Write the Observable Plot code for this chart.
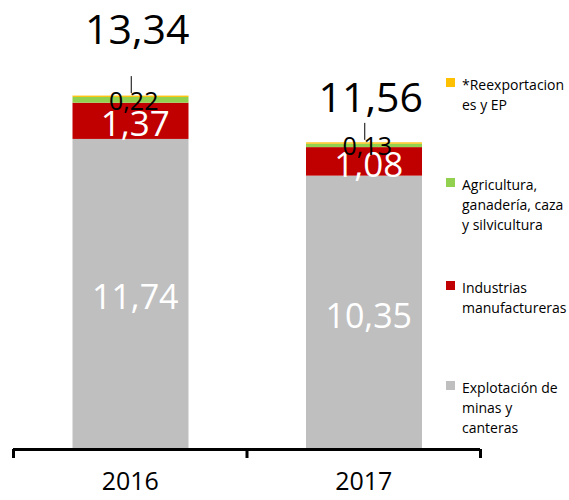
<!DOCTYPE html>
<html>
<head>
<meta charset="utf-8">
<script src="https://cdn.jsdelivr.net/npm/d3@7"></script>
<script src="https://cdn.jsdelivr.net/npm/@observablehq/plot@0.6"></script>
<style>
  body { margin: 0; background: #fff; font-family: "Open Sans", sans-serif; }
  #wrap { position: relative; width: 569px; height: 500px; }
  #legend { position: absolute; left: 446px; top: 0; }
  .item { position: absolute; left: 0; width: 123px; font-size: 14px; line-height: 20px; color: #000; }
  .sw { position: absolute; left: 0; top: 3.4px; width: 9px; height: 9px; }
  .lab { position: absolute; left: 16px; top: 0; white-space: nowrap; }
</style>
</head>
<body>
<div id="wrap"><div id="legend"></div></div>
<script>
const years = ["2016", "2017"];
const seriesNames = [
  "Explotación de minas y canteras",
  "Industrias manufactureras",
  "Agricultura, ganadería, caza y silvicultura",
  "*Reexportaciones y EP"
];
const legendLines = [
  ["Explotación de", "minas y", "canteras"],
  ["Industrias", "manufactureras"],
  ["Agricultura,", "ganadería, caza", "y silvicultura"],
  ["*Reexportacion", "es y EP"]
];
const colors = ["#BFBFBF", "#C00000", "#92D050", "#FFC000"];
const minas = [11.74, 10.35];
const industrias = [1.37, 1.08];
const agricultura = [0.22, 0.13];
const reexport = [0.05, 0.05];
const totals = [13.34, 11.56];

const seriesValues = [minas, industrias, agricultura, reexport];
const rows = [];
const tops = [];
years.forEach((yr, i) => {
  let base = 0;
  seriesValues.forEach((vals, k) => {
    rows.push({i, year: yr, series: seriesNames[k], k, y1: base, y2: base + vals[i], value: vals[i]});
    base += vals[i];
  });
  tops.push({i, year: yr, top: base, total: totals[i]});
});
const fmt = d => d.toFixed(2).replace(".", ",");
const seg = k => rows.filter(r => r.k === k);
const cx = d => d.i + 0.5;
const mid = d => (d.y1 + d.y2) / 2;

const chart = Plot.plot({
  width: 569,
  height: 500,
  marginTop: 0,
  marginLeft: 13,
  marginRight: 89,
  marginBottom: 51,
  style: {fontFamily: "Open Sans, sans-serif", background: "white"},
  x: {domain: [0, 2], axis: null},
  y: {domain: [0, 17], axis: null},
  color: {domain: seriesNames, range: colors},
  marks: [
    Plot.rectY(rows, {x1: d => d.i, x2: d => d.i + 1, y1: "y1", y2: "y2", fill: "series", insetLeft: 59.5, insetRight: 58}),
    Plot.ruleY([0], {stroke: "black", strokeWidth: 3}),
    Plot.axisX([0, 1, 2], {tickSize: 9, tickFormat: () => "", strokeWidth: 3, stroke: "black"}),
    Plot.text(years, {x: (d, i) => i + 0.5, frameAnchor: "bottom", text: d => d, dy: 40, fontSize: 25, fill: "black"}),
    Plot.text(seg(0), {x: cx, y: mid, text: d => fmt(d.value), fill: "white", fontSize: 34, dx: 5, dy: 4}),
    Plot.text(seg(1), {x: cx, y: mid, text: d => fmt(d.value), fill: "white", fontSize: 35, dx: 5, dy: 3.5}),
    Plot.text(seg(2), {x: cx, y: mid, text: d => fmt(d.value), fill: "black", fontSize: 25, dx: 3.5, dy: 1.5}),
    Plot.ruleX(tops, {x: cx, y1: "top", y2: "top", insetTop: -19.5, insetBottom: 2.5, stroke: "black", strokeWidth: 1, dx: 1}),
    Plot.text(tops.filter(d => d.i === 0), {x: cx, y: "top", text: d => fmt(d.total), fill: "black", fontSize: 41, dx: 7, dy: -65.6}),
    Plot.text(tops.filter(d => d.i === 1), {x: cx, y: "top", text: d => fmt(d.total), fill: "black", fontSize: 41, dx: 7, dy: -44.4})
  ]
});
document.getElementById("wrap").prepend(chart);

const legendTops = [377.6, 277.6, 174.6, 74.6];
const legend = document.getElementById("legend");
seriesNames.forEach((name, k) => {
  const item = document.createElement("div");
  item.className = "item";
  item.style.top = legendTops[k] + "px";
  const sw = document.createElement("span");
  sw.className = "sw";
  sw.style.background = colors[k];
  const lab = document.createElement("div");
  lab.className = "lab";
  lab.innerHTML = legendLines[k].join("<br>");
  item.appendChild(sw);
  item.appendChild(lab);
  legend.appendChild(item);
});
</script>
</body>
</html>
